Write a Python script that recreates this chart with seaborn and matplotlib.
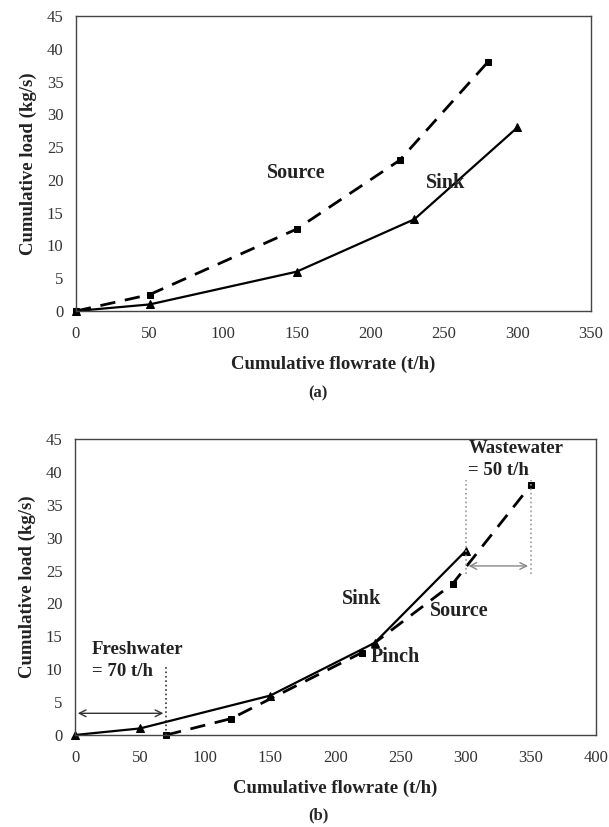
import numpy as np
import pandas as pd
import matplotlib
matplotlib.use("Agg")
import matplotlib.pyplot as plt
import seaborn as sns

# composite curves, cumulative flowrate (t/h) vs cumulative load (kg/s)
sink_flow = [0, 50, 150, 230, 300]
sink_load = [0, 1, 6, 14, 28]
source_flow = [0, 50, 150, 220, 280]
source_load = [0, 2.5, 12.5, 23, 38]
freshwater = 70
wastewater = 50
source_flow_b = [f + freshwater for f in source_flow]

sns.set_theme(style="white")
plt.rcParams["font.family"] = ["Liberation Serif", "DejaVu Serif"]

fig = plt.figure(figsize=(6.09, 8.27), dpi=100)
ax1 = fig.add_axes([76 / 609, 1 - 311 / 827, (591 - 76) / 609, (311 - 16) / 827])
ax2 = fig.add_axes([75 / 609, 1 - 735 / 827, (596 - 75) / 609, (735 - 439) / 827])


def style_axes(ax, xmax):
    ax.set_xlim(0, xmax)
    ax.set_ylim(0, 45)
    ax.set_xticks(np.arange(0, xmax + 1, 50))
    ax.set_yticks(np.arange(0, 46, 5))
    for s in ax.spines.values():
        s.set_color("#444444")
        s.set_linewidth(1.0)
    ax.tick_params(axis="both", direction="out", length=4, width=0.8,
                   colors="#444444", labelsize=12, labelcolor="#333333", pad=5)
    ax.tick_params(axis="x", pad=7)
    ax.set_ylabel("Cumulative load (kg/s)", fontsize=13.5, fontweight="bold",
                  color="#222222", labelpad=7)
    ax.set_xlabel("Cumulative flowrate (t/h)", fontsize=13.5, fontweight="bold",
                  color="#222222", labelpad=10)


def draw_curves(ax, src_x):
    sns.lineplot(x=sink_flow, y=sink_load, ax=ax, color="black", linewidth=1.6,
                 marker="^", markersize=6, markeredgecolor="black", sort=False)
    sns.lineplot(x=src_x, y=source_load, ax=ax, color="black", linewidth=2.0,
                 marker="s", markersize=5, markeredgecolor="black", sort=False,
                 dashes=False, linestyle=(0, (5.5, 3.5)))
    for ln in ax.lines:
        ln.set_clip_on(False)


txt = dict(fontweight="bold", va="center", color="#222222")

# (a)
draw_curves(ax1, source_flow)
style_axes(ax1, 350)
ax1.text(150, 21, "Source", fontsize=14.5, ha="center", **txt)
ax1.text(251, 19.5, "Sink", fontsize=14.5, ha="center", **txt)
fig.text(318 / 609, 1 - 393 / 827, "(a)", fontsize=12, fontweight="bold", ha="center", va="center")

# (b)
draw_curves(ax2, source_flow_b)
style_axes(ax2, 400)
ax2.text(220, 20.6, "Sink", fontsize=14.5, ha="center", **txt)
ax2.text(295, 18.8, "Source", fontsize=14.5, ha="center", **txt)
ax2.text(227, 11.9, "Pinch", fontsize=14.5, ha="left", **txt)
ax2.text(13, 13.0, "Freshwater", fontsize=13.5, ha="left", **txt)
ax2.text(13, 9.6, "= %d t/h" % freshwater, fontsize=13.5, ha="left", **txt)
ax2.text(302, 43.6, "Wastewater", fontsize=13.5, ha="left", **txt)
ax2.text(302, 40.2, "= %d t/h" % wastewater, fontsize=13.5, ha="left", **txt)

# freshwater target
ax2.plot([freshwater, freshwater], [0, 10.4], color="#333333", linestyle=":", linewidth=1.2)
ax2.annotate("", xy=(0, 3.3), xytext=(freshwater, 3.3),
             arrowprops=dict(arrowstyle="<->", color="#333333", lw=1.0))

# wastewater target
ww_end = sink_flow[-1] + wastewater
ax2.plot([sink_flow[-1], sink_flow[-1]], [24.5, 38.7], color="#999999", linestyle=":", linewidth=1.2)
ax2.plot([ww_end, ww_end], [24.5, 38.7], color="#999999", linestyle=":", linewidth=1.2)
ax2.annotate("", xy=(sink_flow[-1], 25.7), xytext=(ww_end, 25.7),
             arrowprops=dict(arrowstyle="<->", color="#888888", lw=1.0))

fig.text(318 / 609, 1 - 815 / 827, "(b)", fontsize=12, fontweight="bold", ha="center", va="center")

fig.savefig("out.png", dpi=100)
